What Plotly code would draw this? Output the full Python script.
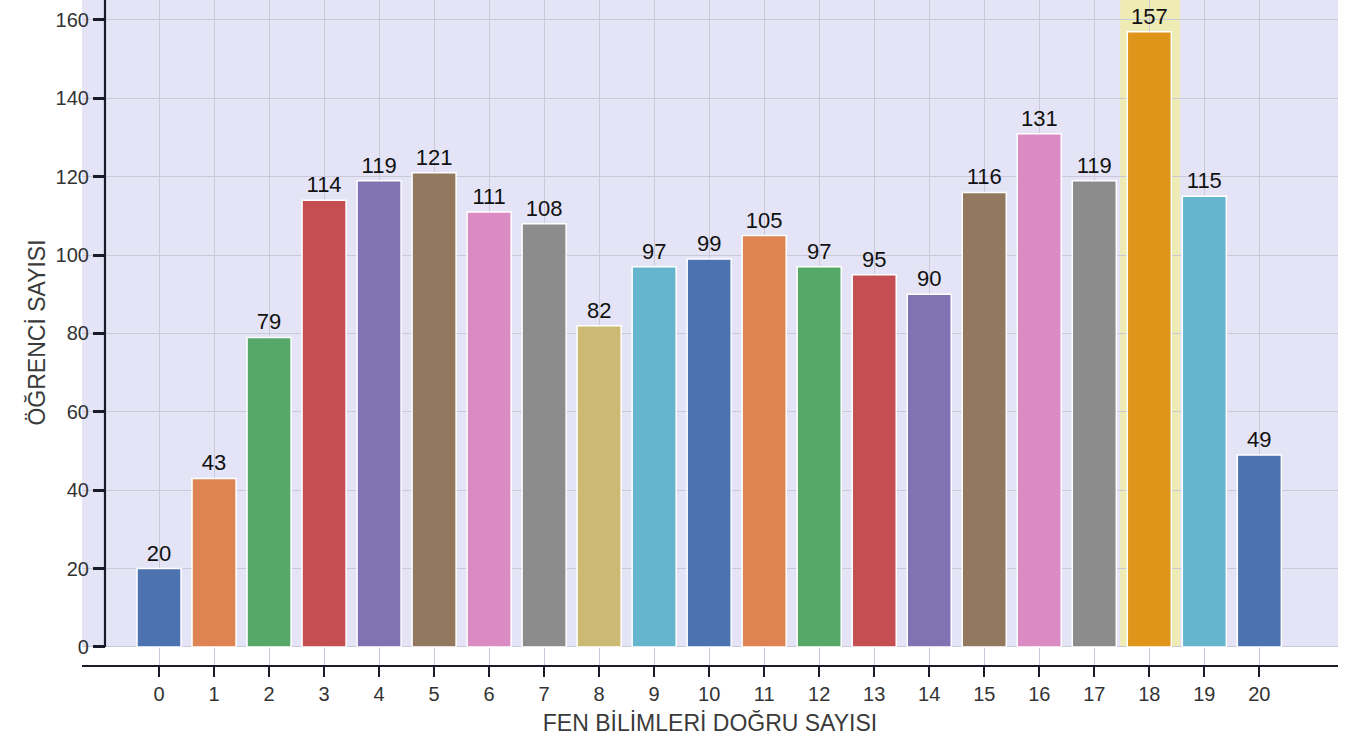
import plotly.graph_objects as go

# Number of correct answers (0-20) and number of students
dogru_sayisi = list(range(21))
ogrenci_sayisi = [20, 43, 79, 114, 119, 121, 111, 108, 82, 97, 99,
                  105, 97, 95, 90, 116, 131, 119, 157, 115, 49]
tick_labels = [str(v) for v in dogru_sayisi]
highlight_index = 18

deep = ["#4C72B0", "#DD8452", "#55A868", "#C44E52", "#8172B3",
        "#937860", "#DA8BC3", "#8C8C8C", "#CCB974", "#64B5CD"]
bar_colors = [deep[i % 10] for i in dogru_sayisi]
bar_colors[highlight_index] = "#DE951A"

X_RANGE = [-1.4, 21.43]
Y_RANGE = [-4.6, 165.1]
FONT = "Liberation Sans, Arial, sans-serif"

fig = go.Figure()

fig.add_trace(go.Bar(
    x=dogru_sayisi, y=ogrenci_sayisi,
    width=0.8,
    marker=dict(color=bar_colors, line=dict(color="white", width=1.5)),
    text=[str(v) for v in ogrenci_sayisi],
    textposition="outside",
    textfont=dict(size=22, color="#111111", family=FONT),
    cliponaxis=False,
    showlegend=False,
))

# highlight band behind the maximum bar
fig.add_shape(type="rect", xref="x", yref="paper",
              x0=highlight_index - 0.53, x1=highlight_index + 0.56, y0=0, y1=1,
              fillcolor="#EEEBB4", line_width=0, layer="below")

# white strip between the zero line and the offset x axis
fig.add_shape(type="rect", xref="paper", yref="y",
              x0=0, x1=1, y0=Y_RANGE[0], y1=0,
              fillcolor="white", line_width=0, layer="between")

# y spine, from 0 upward
fig.add_shape(type="line", xref="paper", yref="y",
              x0=0.0183, x1=0.0183, y0=0, y1=Y_RANGE[1],
              line=dict(color="#1a1a2a", width=2.2))

fig.update_layout(
    width=1355, height=746,
    paper_bgcolor="white",
    plot_bgcolor="#E4E4F6",
    margin=dict(l=82, r=17, t=0, b=81),
    bargap=0.2,
    font=dict(family=FONT, color="#333333"),
    xaxis=dict(
        range=X_RANGE, automargin=False,
        tickmode="array", tickvals=dogru_sayisi, ticktext=tick_labels,
        showgrid=True, gridcolor="#C9C9D8", gridwidth=1,
        zeroline=False,
        showline=True, linecolor="#1a1a2a", linewidth=2,
        ticks="outside", ticklen=10, tickwidth=2, tickcolor="#1a1a2a",
        tickfont=dict(size=20, color="#333333"),
        title=dict(text="FEN BİLİMLERİ DOĞRU SAYISI",
                   font=dict(size=23, color="#3a3a3a"), standoff=11),
    ),
    yaxis=dict(
        range=Y_RANGE, automargin=False,
        anchor="free", position=0.0183,
        tickmode="array", tickvals=list(range(0, 161, 20)),
        showgrid=True, gridcolor="#C9C9D8", gridwidth=1,
        zeroline=False, showline=False,
        ticks="outside", ticklen=12, tickwidth=2.5, tickcolor="#1a1a2a",
        tickfont=dict(size=20, color="#333333"),
        title=dict(text="ÖĞRENCİ SAYISI",
                   font=dict(size=23, color="#3a3a3a"), standoff=2),
    ),
)

# drop the page's default body margin so the figure sits at the window corner
fig.write_html("out.html", config={"displayModeBar": False},
               post_script="document.body.style.margin='0';")
